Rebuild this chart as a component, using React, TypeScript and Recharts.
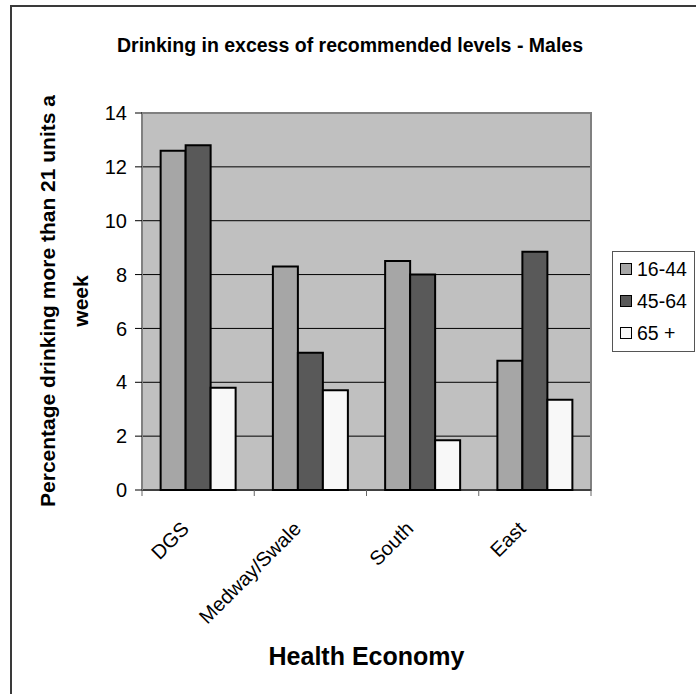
import React from "react"
import {
  BarChart,
  Bar,
  XAxis,
  YAxis,
  CartesianGrid,
  Legend,
  ReferenceArea,
} from "recharts"

const categories = ["DGS", "Medway/Swale", "South", "East"]
const age16to44 = [12.6, 8.3, 8.5, 4.8]
const age45to64 = [12.8, 5.1, 8.0, 8.85]
const age65plus = [3.8, 3.7, 1.85, 3.35]
const seriesNames = ["16-44", "45-64", "65 +"]
const seriesColors = ["#a6a6a6", "#595959", "#f8f8f8"]
const yTicks = [0, 2, 4, 6, 8, 10, 12, 14]

const data = categories.map((name, i) => ({
  name,
  s1: age16to44[i],
  s2: age45to64[i],
  s3: age65plus[i],
}))

const FONT = "'Liberation Sans', Arial, sans-serif"

// category label rotated, with tick marks on band boundaries
function CategoryTick(props: any) {
  const { x, y, payload, index } = props
  const off = payload.offset ?? 0
  const axisY = y - 8
  return (
    <g>
      <line x1={x - off} x2={x - off} y1={axisY} y2={axisY + 6} stroke="#666" />
      {index === categories.length - 1 && (
        <line x1={x + off} x2={x + off} y1={axisY} y2={axisY + 6} stroke="#666" />
      )}
      <g transform={`translate(${x - 8},${y + 32})`}>
        <text
          x={0}
          y={0}
          textAnchor="end"
          transform="rotate(-45)"
          fontSize={20}
          fontFamily={FONT}
          fill="#000"
        >
          {payload.value}
        </text>
      </g>
    </g>
  )
}

function YTitle() {
  const cy = 301
  return (
    <g fontFamily={FONT} fontWeight="bold" fontSize={21} fill="#000">
      <text transform={`translate(55,${cy}) rotate(-90)`} textAnchor="middle">
        Percentage drinking more than 21 units a
      </text>
      <text transform={`translate(88,${cy}) rotate(-90)`} textAnchor="middle">
        week
      </text>
    </g>
  )
}

function XTitle(props: any) {
  const { viewBox } = props
  return (
    <text
      x={viewBox.x + viewBox.width / 2}
      y={viewBox.y + 175}
      textAnchor="middle"
      fontFamily={FONT}
      fontWeight="bold"
      fontSize={25}
      fill="#000"
    >
      Health Economy
    </text>
  )
}

function LegendBox() {
  return (
    <div
      style={{
        boxSizing: "border-box",
        width: 83,
        height: 101,
        border: "1px solid #555",
        background: "#fff",
        paddingTop: 1,
        fontFamily: FONT,
        fontSize: 19.5,
        color: "#000",
      }}
    >
      {seriesNames.map((n, i) => (
        <div
          key={n}
          style={{ height: 32, display: "flex", alignItems: "center", paddingLeft: 7 }}
        >
          <span
            style={{
              display: "inline-block",
              width: 10,
              height: 10,
              border: "1px solid #000",
              background: seriesColors[i],
              marginRight: 5,
            }}
          />
          <span>{n}</span>
        </div>
      ))}
    </div>
  )
}

export default function App() {
  return (
    <div
      style={{
        position: "absolute",
        left: 0,
        top: 0,
        width: 696,
        height: 694,
        overflow: "hidden",
        background: "#fff",
      }}
    >
      <div
        style={{
          position: "absolute",
          left: 10,
          top: 5,
          width: 800,
          height: 800,
          border: "2px solid #3a3a3a",
        }}
      />
      <div
        style={{
          position: "absolute",
          left: 0,
          width: 700,
          top: 35,
          textAlign: "center",
          fontFamily: FONT,
          fontWeight: "bold",
          fontSize: 19.5,
          lineHeight: "20px",
        }}
      >
        Drinking in excess of recommended levels - Males
      </div>
      <div style={{ position: "absolute", left: 0, top: 0 }}>
        <BarChart
          width={696}
          height={694}
          data={data}
          margin={{ top: 113, right: 105, bottom: 14, left: 82 }}
          barGap={0}
          barCategoryGap="16.6%"
        >
          <CartesianGrid vertical={false} stroke="#000" fill="#c0c0c0" />
          <ReferenceArea y1={0} y2={14} fill="none" stroke="#808080" strokeWidth={2} />
          <XAxis
            dataKey="name"
            height={190}
            tickSize={6}
            tickMargin={2}
            tickLine={false}
            axisLine={{ stroke: "#000" }}
            interval={0}
            tick={<CategoryTick />}
            label={<XTitle />}
          />
          <YAxis
            width={60}
            domain={[0, 14]}
            ticks={yTicks}
            tickSize={7}
            tickMargin={8}
            tickLine={{ stroke: "#000" }}
            axisLine={{ stroke: "#808080", strokeWidth: 2 }}
            tick={{ fill: "#000", fontSize: 20, fontFamily: FONT }}
            label={<YTitle />}
          />
          <Legend
            layout="vertical"
            align="center"
            verticalAlign="middle"
            wrapperStyle={{ left: 612, top: 251, width: 83, height: 101 }}
            content={() => <LegendBox />}
          />
          {["s1", "s2", "s3"].map((k, i) => (
            <Bar
              key={k}
              dataKey={k}
              name={seriesNames[i]}
              fill={seriesColors[i]}
              stroke="#000"
              strokeWidth={2}
              isAnimationActive={false}
            />
          ))}
        </BarChart>
      </div>
    </div>
  )
}
